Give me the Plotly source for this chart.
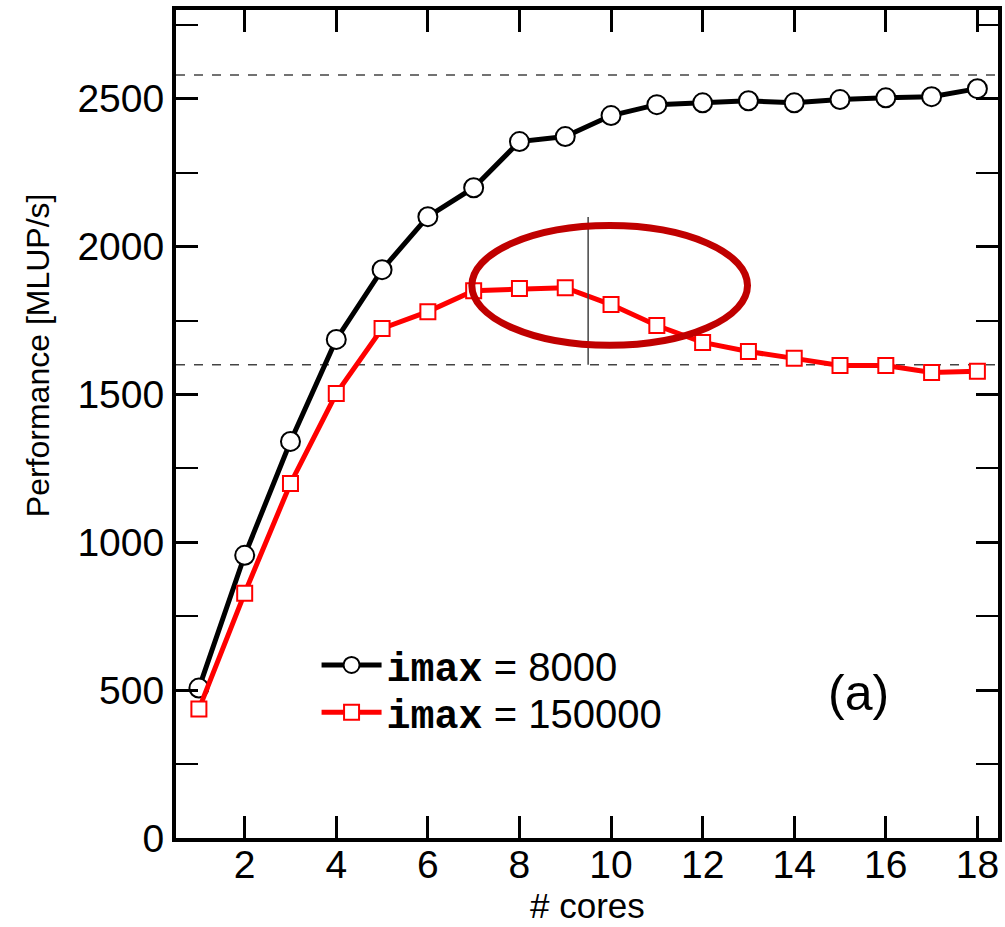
import plotly.graph_objects as go

cores = list(range(1, 19))
perf_8000 = [507, 956, 1341, 1686, 1922, 2101, 2199, 2355, 2372, 2443, 2480,
             2486, 2493, 2486, 2497, 2503, 2507, 2534]
perf_150000 = [436, 828, 1199, 1503, 1723, 1780, 1851, 1858, 1861, 1804, 1733,
               1676, 1645, 1622, 1598, 1598, 1574, 1578]
x_ticks = [2, 4, 6, 8, 10, 12, 14, 16, 18]
y_ticks = [0, 500, 1000, 1500, 2000, 2500]
h_ref_lines = [2580, 1600]
v_ref_x = 9.5
v_ref_y = [1600, 2100]
ellipse_x = [6.96, 12.98]
ellipse_y = [1666, 2071]
x_range = [0.5, 18.45]

FONT = "Liberation Sans, Arial, Helvetica, sans-serif"
MONO = "Liberation Mono, Courier New, monospace"

fig = go.Figure()
fig.add_trace(go.Scatter(
    x=cores, y=perf_8000, mode="lines+markers",
    name=f"<b><span style='font-family:{MONO}'>imax</span></b> = 8000",
    line=dict(color="black", width=5),
    marker=dict(symbol="circle", size=19, color="white", line=dict(color="black", width=2)),
    legend="legend",
))
fig.add_trace(go.Scatter(
    x=cores, y=perf_150000, mode="lines+markers", xaxis="x2",
    name=f"<b><span style='font-family:{MONO}'>imax</span></b> = 150000",
    line=dict(color="#ff0000", width=5),
    marker=dict(symbol="square", size=15, color="white", line=dict(color="#ff0000", width=2)),
    legend="legend2",
))

for yv in h_ref_lines:
    fig.add_shape(type="line", xref="paper", yref="y", x0=0, x1=1, y0=yv, y1=yv,
                  line=dict(color="#444444", width=1.5, dash="dash"), layer="below")
fig.add_shape(type="line", xref="x", yref="y", x0=v_ref_x, x1=v_ref_x,
              y0=v_ref_y[0], y1=v_ref_y[1], line=dict(color="#444444", width=1.5))
fig.add_shape(type="circle", xref="x", yref="y", x0=ellipse_x[0], x1=ellipse_x[1],
              y0=ellipse_y[0], y1=ellipse_y[1], line=dict(color="#c00000", width=7))

fig.add_annotation(text="(a)", xref="x", yref="y", x=15.4, y=490, showarrow=False,
                   xanchor="center", yanchor="middle",
                   font=dict(family=FONT, size=50, color="black"))
fig.add_annotation(text="Performance [MLUP/s]", xref="paper", yref="paper",
                   x=-0.168, y=0.583, textangle=-90, showarrow=False,
                   xanchor="center", yanchor="middle",
                   font=dict(family=FONT, size=32, color="black"))
fig.add_annotation(text="# cores", xref="paper", yref="paper",
                   x=0.5, y=-0.0820, showarrow=False, xanchor="center", yanchor="middle",
                   font=dict(family=FONT, size=35, color="black"))

axis_common = dict(
    showline=True, linecolor="black", linewidth=4, mirror="allticks",
    ticks="inside", ticklen=22, tickwidth=3, tickcolor="black",
    showgrid=False, zeroline=False,
    tickfont=dict(family=FONT, size=39, color="black"),
    ticklabelstandoff=0,
)
fig.update_xaxes(range=x_range, tickmode="array", tickvals=x_ticks,
                 showticklabels=False, **axis_common)
fig.update_yaxes(range=[0, 2800], tickmode="array", tickvals=y_ticks,
                 minor=dict(ticks="inside", dtick=250, ticklen=10, tickwidth=2,
                            tickcolor="black", showgrid=False),
                 **axis_common)

legend_common = dict(xanchor="left", yanchor="middle", bgcolor="rgba(0,0,0,0)",
                     font=dict(family=FONT, size=40, color="black"), itemwidth=60)
fig.update_layout(
    width=1005, height=927,
    margin=dict(l=176, r=3, t=10, b=89),
    paper_bgcolor="white", plot_bgcolor="white",
    showlegend=True,
    xaxis2=dict(overlaying="x", anchor="free", position=0, side="bottom",
                range=x_range, tickmode="array", tickvals=x_ticks,
                showline=False, ticks="", showgrid=False, zeroline=False,
                tickfont=dict(family=FONT, size=39, color="black")),
    legend=dict(x=0.171, y=0.209, **legend_common),
    legend2=dict(x=0.171, y=0.152, **legend_common),
)

fig.write_html("out.html", config={"displayModeBar": False},
               post_script="document.body.style.margin='0';document.body.style.overflow='hidden';")
